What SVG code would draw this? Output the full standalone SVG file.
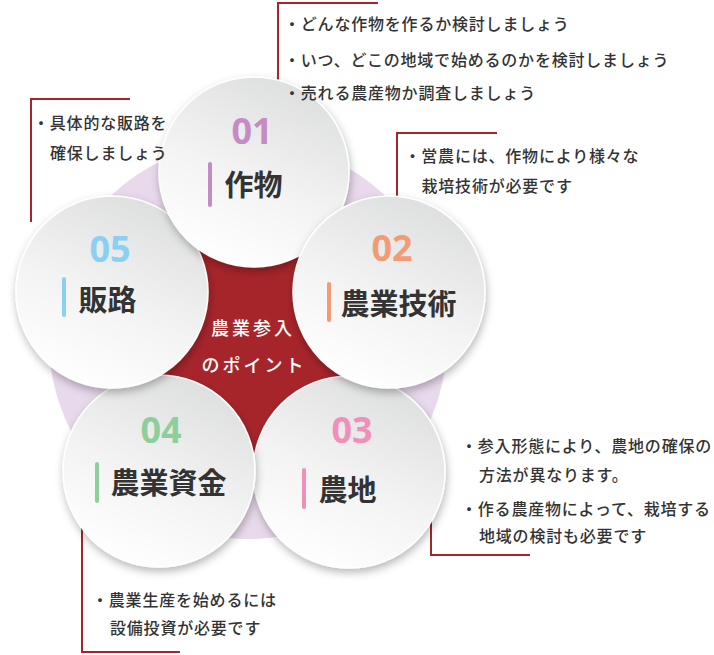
<svg xmlns="http://www.w3.org/2000/svg" width="714" height="655" viewBox="0 0 714 655">
<defs>
  <linearGradient id="cg" x1="0.75" y1="0" x2="0.3" y2="1">
    <stop offset="0" stop-color="#dcdddd"/>
    <stop offset="0.55" stop-color="#f3f3f3"/>
    <stop offset="1" stop-color="#ffffff"/>
  </linearGradient>
  <filter id="sh" x="-25%" y="-25%" width="150%" height="160%">
    <feDropShadow dx="1" dy="4" stdDeviation="4" flood-color="#000" flood-opacity="0.28"/>
  </filter>
</defs>
<style>
  .ln{fill:none;stroke:#a6252a;stroke-width:2}
  .tx{font-family:"Noto Sans CJK JP","Noto Sans",sans-serif;font-size:16px;font-weight:500;fill:#333333;letter-spacing:0.8px}
  .num{font-family:"Open Sans","Lato",sans-serif;font-weight:700;font-size:36px;text-anchor:middle}
  .ttl{font-family:"Noto Sans CJK JP","Noto Sans",sans-serif;font-weight:700;font-size:29px;fill:#333333}
  .circ{fill:url(#cg);stroke:#ffffff;stroke-width:1.5;filter:url(#sh)}
  .bar{stroke-width:4;stroke-linecap:round}
  .ctr{font-family:"Noto Sans CJK JP","Noto Sans",sans-serif;font-size:18px;font-weight:500;fill:#ffffff;letter-spacing:3px;text-anchor:middle}
</style>

<g id="connectors">
  <path class="ln" d="M278,95 V3 H378"/>
  <path class="ln" d="M31,222 V99 H130"/>
  <path class="ln" d="M397,215 V133 H497"/>
  <path class="ln" d="M431,480 V555 H530"/>
  <path class="ln" d="M82,480 V652 H180"/>
</g>

<g id="background">
  <circle cx="248" cy="340" r="199" fill="#e9d9ec"/>
  <circle cx="250" cy="340" r="128" fill="#a6252a"/>
</g>

<g id="center">
  <text class="ctr" x="253" y="335">農業参入</text>
  <text class="ctr" x="254" y="372">のポイント</text>
</g>

<g id="node03">
  <circle class="circ" cx="349" cy="472" r="96"/>
  <text class="num" x="352" y="443" fill="#f08fb8">03</text>
  <line class="bar" x1="304" y1="470" x2="304" y2="507" stroke="#f08fb8"/>
  <text class="ttl" x="318.5" y="501">農地</text>
</g>

<g id="node04">
  <circle class="circ" cx="159" cy="471" r="96"/>
  <text class="num" x="161" y="443" fill="#8dcf9b">04</text>
  <line class="bar" x1="97" y1="464" x2="97" y2="501" stroke="#8dcf9b"/>
  <text class="ttl" x="110.5" y="494">農業資金</text>
</g>

<g id="node05">
  <circle class="circ" cx="112" cy="292" r="96"/>
  <text class="num" x="110" y="262" fill="#8ad0f2">05</text>
  <line class="bar" x1="64" y1="279" x2="64" y2="315" stroke="#8ad0f2"/>
  <text class="ttl" x="78.5" y="311">販路</text>
</g>

<g id="node01">
  <circle class="circ" cx="254" cy="172" r="95"/>
  <text class="num" x="252" y="144" fill="#c58bc4">01</text>
  <line class="bar" x1="210" y1="164" x2="210" y2="205" stroke="#c58bc4"/>
  <text class="ttl" x="224.5" y="196">作物</text>
</g>

<g id="node02">
  <circle class="circ" cx="389" cy="292" r="96"/>
  <text class="num" x="392" y="261" fill="#f39b73">02</text>
  <line class="bar" x1="329" y1="284" x2="329" y2="320" stroke="#f39b73"/>
  <text class="ttl" x="340.5" y="315">農業技術</text>
</g>

<g id="callouts">
  <text class="tx" x="284" y="29.5">・どんな作物を作るか検討しましょう</text>
  <text class="tx" x="284" y="66">・いつ、どこの地域で始めるのかを検討しましょう</text>
  <text class="tx" x="284" y="98.5">・売れる農産物か調査しましょう</text>

  <text class="tx" x="33" y="128.5">・具体的な販路を</text>
  <text class="tx" x="50" y="158.5">確保しましょう</text>

  <text class="tx" x="404.5" y="161.5">・営農には、作物により様々な</text>
  <text class="tx" x="421.5" y="191.5">栽培技術が必要です</text>

  <text class="tx" x="461" y="451.5">・参入形態により、農地の確保の</text>
  <text class="tx" x="479" y="480.5">方法が異なります。</text>
  <text class="tx" x="461" y="514.5">・作る農産物によって、栽培する</text>
  <text class="tx" x="479" y="541.5">地域の検討も必要です</text>

  <text class="tx" x="92" y="605.5">・農業生産を始めるには</text>
  <text class="tx" x="110" y="633.5">設備投資が必要です</text>
</g>
</svg>
